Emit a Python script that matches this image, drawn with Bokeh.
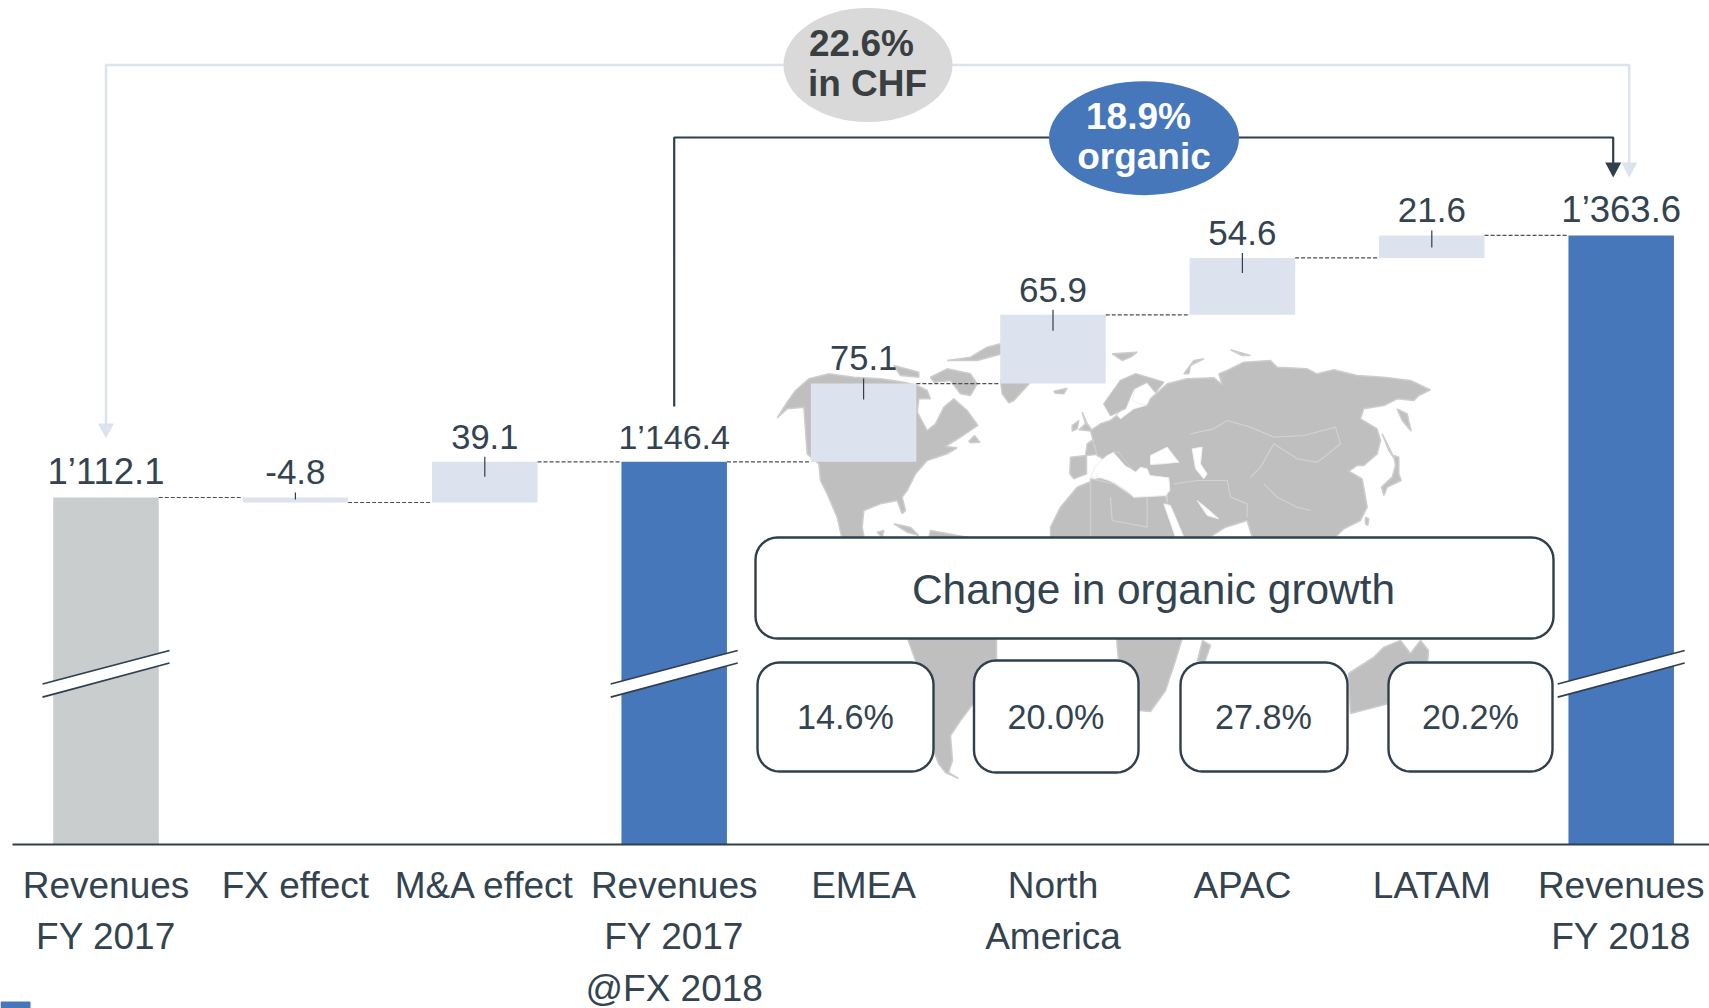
import math
from bokeh.core.properties import value
from bokeh.embed import file_html
from bokeh.models import FixedTicker, Range1d
from bokeh.plotting import figure
from bokeh.resources import INLINE

# ---------- data ----------
categories = ["Revenues\nFY 2017", "FX effect", "M&A effect", "Revenues\nFY 2017\n@FX 2018",
              "EMEA", "North\nAmerica", "APAC", "LATAM", "Revenues\nFY 2018"]
value_labels = ["1’112.1", "-4.8", "39.1", "1’146.4", "75.1", "65.9", "54.6", "21.6", "1’363.6"]
totals = {0: 1112.1, 3: 1146.4, 8: 1363.6}
deltas = {1: -4.8, 2: 39.1, 4: 75.1, 5: 65.9, 6: 54.6, 7: 21.6}
total_colors = {0: "#C9CDCD", 3: "#4677BB", 8: "#4677BB"}
growth_title = "Change in organic growth"
growth_labels = ["14.6%", "20.0%", "27.8%", "20.2%"]
oval_gray = ["22.6%", "in CHF"]
oval_blue = ["18.9%", "organic"]

# ---------- styling ----------
FONT = value("Liberation Sans")
DARK = "#2F3F4C"
TEXT = "#33434F"
LIGHT = "#DCE3EE"
BLUE = "#4677BB"
MAPC = "#BFBFBF"
AXIS_BASE = 779.1
PX_PER_Y = 844 / 810
Y_TOP = AXIS_BASE + 844 / PX_PER_Y
Y_BOTTOM = AXIS_BASE - (1008 - 844) / PX_PER_Y
BAR_W = 0.557
PX_PER_X = 189.4
FIRST_BAR_PX = 105.5
X_LEFT = (0 - FIRST_BAR_PX) / PX_PER_X
X_RIGHT = (1709 - FIRST_BAR_PX) / PX_PER_X
VALUE_SIZES = [36.5, 35, 34.5, 34, 34.5, 35, 35, 35, 36.5]


def X(px):
    return X_LEFT + px / PX_PER_X


def Y(py):
    return Y_TOP - py / PX_PER_Y


def bfix(size):
    return -0.33 * size


def poly(pts):
    return [X(a) for a, _ in pts], [Y(b) for _, b in pts]


def z5(pts):
    return [(770 + a / 3, 340 + b / 3) for a, b in pts]


def z6(pts):
    return [(1090 + a / 3, 340 + b / 3) for a, b in pts]


def rrect(l, t, r, b, rad=22, n=8):
    pts = []
    for cx, cy, start in ((r - rad, t + rad, -90), (r - rad, b - rad, 0), (l + rad, b - rad, 90), (l + rad, t + rad, 180)):
        for k in range(n + 1):
            a = math.radians(start + 90 * k / n)
            pts.append((cx + rad * math.cos(a), cy + rad * math.sin(a)))
    pts.append(pts[0])
    return pts


p = figure(width=1709, height=1008, x_range=Range1d(X_LEFT, X_RIGHT), y_range=Range1d(Y_BOTTOM, Y_TOP),
           output_backend="svg", toolbar_location=None, y_axis_location=None,
           min_border_left=0, min_border_right=0, min_border_top=0, min_border_bottom=0)
p.outline_line_color = None
p.grid.visible = False
p.background_fill_color = "white"

ax = p.xaxis[0]
ax.fixed_location = AXIS_BASE
ax.bounds = (X(11.5), X_RIGHT)
ax.ticker = FixedTicker(ticks=list(range(len(categories))))
ax.major_label_overrides = {i: c for i, c in enumerate(categories)}
ax.major_tick_line_color = None
ax.minor_tick_line_color = None
ax.axis_line_color = DARK
ax.axis_line_width = 2
ax.major_label_text_font = "Liberation Sans"
ax.major_label_text_font_size = "37px"
ax.major_label_text_color = TEXT
ax.major_label_text_line_height = 1.26
ax.major_label_standoff = 14
ax.major_label_orientation = "horizontal"

# ---------- world map (background picture, drawn as rough outlines) ----------
land = [
    z5([(20, 232), (50, 185), (75, 150), (115, 115), (175, 100), (250, 110), (330, 115), (400, 125), (440, 135),
        (470, 150), (480, 175), (445, 175), (440, 215), (470, 270), (495, 250), (520, 200), (550, 175), (590, 210),
        (622, 255), (570, 290), (525, 318), (560, 322), (530, 340), (470, 360), (435, 400), (410, 450), (395, 470),
        (405, 510), (395, 520), (380, 480), (330, 490), (280, 510), (275, 560), (290, 640), (225, 640), (200, 530),
        (170, 460), (150, 420), (145, 370), (110, 340), (100, 200), (50, 205)]),
    z5([(370, 75), (445, 95), (445, 110), (390, 105)]),
    z5([(480, 110), (530, 85), (600, 100), (620, 130), (600, 165), (570, 160), (540, 120), (490, 125)]),
    z5([(530, 60), (600, 50), (650, 20), (695, 8), (695, 40), (620, 60)]),
    z5([(690, 120), (780, 125), (730, 180), (715, 187), (695, 160)]),
    z5([(850, 152), (890, 143), (880, 160), (855, 158)]),
    z5([(595, 302), (612, 285), (628, 305), (600, 307)]),
    z5([(935, 215), (950, 250), (967, 272), (925, 268), (945, 250)]),
    z5([(905, 255), (925, 240), (920, 265), (905, 272)]),
    z5([(900, 350), (948, 345), (948, 400), (910, 415), (898, 400)]),
    z5([(945, 345), (950, 310), (1000, 275), (1030, 250), (1060, 300), (1000, 340)]),
    z5([(370, 550), (420, 560), (445, 585), (410, 575)]),
    z5([(320, 575), (340, 570), (335, 590)]),
    z6([(0, 270), (30, 250), (60, 240), (90, 215), (130, 195), (170, 195), (180, 175), (230, 130), (290, 115),
        (370, 112), (395, 132), (385, 100), (410, 90), (460, 65), (540, 60), (560, 80), (650, 85), (680, 100),
        (730, 88), (800, 105), (880, 110), (960, 120), (1020, 148), (985, 165), (970, 180), (920, 175), (880, 195),
        (820, 205), (810, 235), (860, 265), (870, 300), (860, 340), (820, 375), (800, 375), (775, 392), (815, 415),
        (825, 470), (830, 500), (810, 540), (760, 565), (730, 595), (620, 640), (500, 640), (470, 540), (405, 560),
        (280, 640), (230, 500), (230, 420), (120, 400), (20, 345)]),
    z6([(40, 190), (90, 120), (135, 100), (220, 125), (195, 155), (170, 125), (130, 145), (105, 205), (60, 225)]),
    z6([(65, 40), (140, 35), (120, 50), (95, 60)]),
    z6([(280, 100), (310, 60), (340, 55), (300, 75), (295, 100)]),
    z6([(420, 28), (480, 45), (455, 45)]),
    z6([(875, 280), (895, 320), (912, 355), (895, 330)]),
    z6([(920, 205), (950, 220), (962, 272), (935, 240)]),
    z6([(910, 345), (925, 350), (925, 400), (932, 420), (890, 440), (880, 465), (873, 440), (905, 410), (915, 375)]),
    z6([(825, 530), (835, 535), (832, 555), (825, 550)]),
    z5([(840, 560), (870, 500), (920, 440), (980, 415), (1020, 415), (1040, 500), (1100, 640), (840, 640)]),
    z6([(0, 415), (70, 430), (130, 470), (225, 465), (255, 590), (300, 640), (0, 640)]),
    [(1100, 537), (1175, 537), (1182, 637), (1175, 660), (1165, 690), (1150, 711), (1138, 710), (1128, 690),
     (1118, 660), (1116, 637)],
    [(1202, 640), (1210, 645), (1204, 662), (1197, 660)],
    [(930, 530), (985, 540), (996, 638), (996, 660), (975, 700), (960, 720), (950, 735), (952, 760), (948, 772),
     (958, 778), (945, 772), (938, 763), (933, 750), (925, 700), (915, 660), (907, 638)],
    [(1348, 673), (1373, 657), (1383, 647), (1400, 640), (1410, 653), (1420, 640), (1428, 650), (1427, 665),
     (1400, 700), (1350, 713)],
]
seas = [
    z6([(0, 412), (15, 375), (50, 345), (70, 335), (105, 375), (135, 395), (150, 380), (170, 385), (178, 405),
        (235, 412), (238, 450), (225, 465), (130, 470), (110, 450), (70, 425), (20, 408)]),
    z6([(180, 345), (230, 320), (265, 365), (215, 370), (180, 372)]),
    z6([(305, 325), (335, 320), (330, 370), (350, 400), (340, 415), (315, 385)]),
    z6([(110, 182), (135, 145), (125, 180), (165, 195), (130, 205), (90, 235), (80, 225)]),
    z6([(220, 490), (240, 495), (280, 590), (255, 590)]),
    z6([(320, 480), (345, 500), (385, 535), (350, 525)]),
]
islands = [
    z6([(70, 335), (85, 335), (125, 385), (105, 375)]),
    z6([(40, 190), (90, 120), (135, 100), (220, 125), (195, 155), (170, 125), (130, 145), (105, 205), (60, 225)]),
]
borders = [
    z6([(300, 280), (370, 265), (410, 240), (480, 260), (550, 290), (640, 285), (735, 260), (750, 310), (700, 350),
        (680, 365), (620, 355), (550, 310), (510, 380), (480, 410)]),
    z6([(250, 430), (320, 420), (410, 420), (420, 470), (470, 490), (470, 530)]),
    z6([(520, 430), (560, 470), (620, 500), (660, 510)]),
    z6([(60, 470), (65, 540), (170, 560), (170, 470)]),
]

land_xy = [poly(q) for q in land]
p.patches([a for a, _ in land_xy], [b for _, b in land_xy], fill_color=MAPC, line_color="#CDCDCD", line_width=1.5)
sea_xy = [poly(q) for q in seas]
p.patches([a for a, _ in sea_xy], [b for _, b in sea_xy], fill_color="white", line_color="#F0F0F0")
isl_xy = [poly(q) for q in islands]
p.patches([a for a, _ in isl_xy], [b for _, b in isl_xy], fill_color=MAPC, line_color="#CDCDCD")
bor_xy = [poly(q) for q in borders]
p.multi_line([a for a, _ in bor_xy], [b for _, b in bor_xy], line_color="#D2D2D2", line_width=1.2)

# ---------- waterfall ----------
level = 0.0
tops, bottoms, colors, ends = [], [], [], []
for i in range(len(categories)):
    if i in totals:
        level = totals[i]
        tops.append(level); bottoms.append(AXIS_BASE); colors.append(total_colors[i])
    else:
        new = level + deltas[i]
        tops.append(max(level, new)); bottoms.append(min(level, new)); colors.append(LIGHT)
        level = new
    ends.append(level)

xs = list(range(len(categories)))
p.vbar(x=xs, top=tops, bottom=bottoms, width=BAR_W, fill_color=colors, line_color=None)

# connectors between the bars
p.segment(x0=[i + BAR_W / 2 for i in xs[:-1]], y0=ends[:-1], x1=[i + 1 - BAR_W / 2 for i in xs[:-1]], y1=ends[:-1],
          line_color="#4A4F55", line_width=1.2, line_dash="4 2")

# small leaders inside delta bars
leader_idx = [i for i in xs if i in deltas]
leader_down = {1: 2, 2: 15, 4: 16, 5: 16, 6: 15, 7: 12}
p.segment(x0=leader_idx, x1=leader_idx,
          y0=[tops[i] + 5 / PX_PER_Y for i in leader_idx],
          y1=[tops[i] - leader_down[i] / PX_PER_Y for i in leader_idx],
          line_color=DARK, line_width=1.2)

# value labels
p.text(x=xs, y=tops, text=value_labels, y_offset=[-13.8 + bfix(s) for s in VALUE_SIZES], text_align="center",
       text_baseline="alphabetic", text_font=FONT, text_font_size=[f"{s}px" for s in VALUE_SIZES], text_color=TEXT)

# axis break marks
for i in totals:
    cx = FIRST_BAR_PX + i * PX_PER_X
    up = [(cx - 63.5, 683.5), (cx + 63.5, 650)]
    lo = [(cx - 63.5, 696.7), (cx + 63.5, 662.5)]
    bx, by = poly(up + lo[::-1])
    p.patch(bx, by, fill_color="white", line_color=None)
    for seg in (up, lo):
        sx, sy = poly(seg)
        p.line(sx, sy, line_color=DARK, line_width=1.8)

# ---------- growth brackets ----------
x_gray_end = 8 + 8 / PX_PER_X
x_dark_end = 8 - 8 / PX_PER_X
p.line([0, 0, x_gray_end, x_gray_end], [Y(425), Y(64.5), Y(64.5), Y(163)], line_color=LIGHT, line_width=2.5)
p.line([3, 3, x_dark_end, x_dark_end], [Y(406), Y(137), Y(137), Y(163)], line_color=DARK, line_width=2.2)
head = 8 / PX_PER_X
p.patch([0 - head, 0 + head, 0], [Y(423), Y(423), Y(438)], fill_color=LIGHT, line_color=None)
p.patch([x_gray_end - head, x_gray_end + head, x_gray_end], [Y(162), Y(162), Y(177)], fill_color=LIGHT, line_color=None)
p.patch([x_dark_end - head, x_dark_end + head, x_dark_end], [Y(162), Y(162), Y(177)], fill_color=DARK, line_color=None)

p.ellipse(x=[X(867.5)], y=[Y(64.5)], width=169, height=114, width_units="screen", height_units="screen",
          fill_color="#D9D9D9", line_color=None)
p.ellipse(x=[X(1143.5)], y=[Y(137.7)], width=190, height=114, width_units="screen", height_units="screen",
          fill_color=BLUE, line_color=None)
p.text(x=[X(861), X(867)], y=[Y(55), Y(95)], y_offset=bfix(37), text=oval_gray, text_align="center",
       text_baseline="alphabetic", text_font=FONT, text_font_style="bold", text_font_size="37px", text_color="#3A3F42")
p.text(x=[X(1138), X(1143.5)], y=[Y(128), Y(168)], y_offset=bfix(37), text=oval_blue, text_align="center",
       text_baseline="alphabetic", text_font=FONT, text_font_style="bold", text_font_size="37px", text_color="white")

# ---------- organic growth boxes ----------
box_specs = [(755, 537, 1553, 638), (757, 662, 933, 771), (973.5, 660, 1138, 772), (1180, 662, 1347, 771), (1388, 662, 1552, 771)]
box_xy = [poly(rrect(*b)) for b in box_specs]
p.patches([a for a, _ in box_xy], [b for _, b in box_xy], fill_color="white", line_color=DARK, line_width=2.4)
p.text(x=[X(1153)], y=[Y(603)], y_offset=bfix(42.4), text=[growth_title], text_align="center",
       text_baseline="alphabetic", text_font=FONT, text_font_size="42.4px", text_color=TEXT)
p.text(x=[X(845), X(1055.5), X(1263), X(1470)], y=[Y(728)] * 4, y_offset=bfix(34.2), text=growth_labels,
       text_align="center", text_baseline="alphabetic", text_font=FONT, text_font_size="34.2px", text_color=TEXT)

# small blue tab at the bottom-left corner of the slide
p.quad(left=[X(0)], right=[X(30)], top=[Y(1001)], bottom=[Y(1008)], fill_color=BLUE, line_color=None)

open("out.html", "w").write(file_html(p, INLINE))
